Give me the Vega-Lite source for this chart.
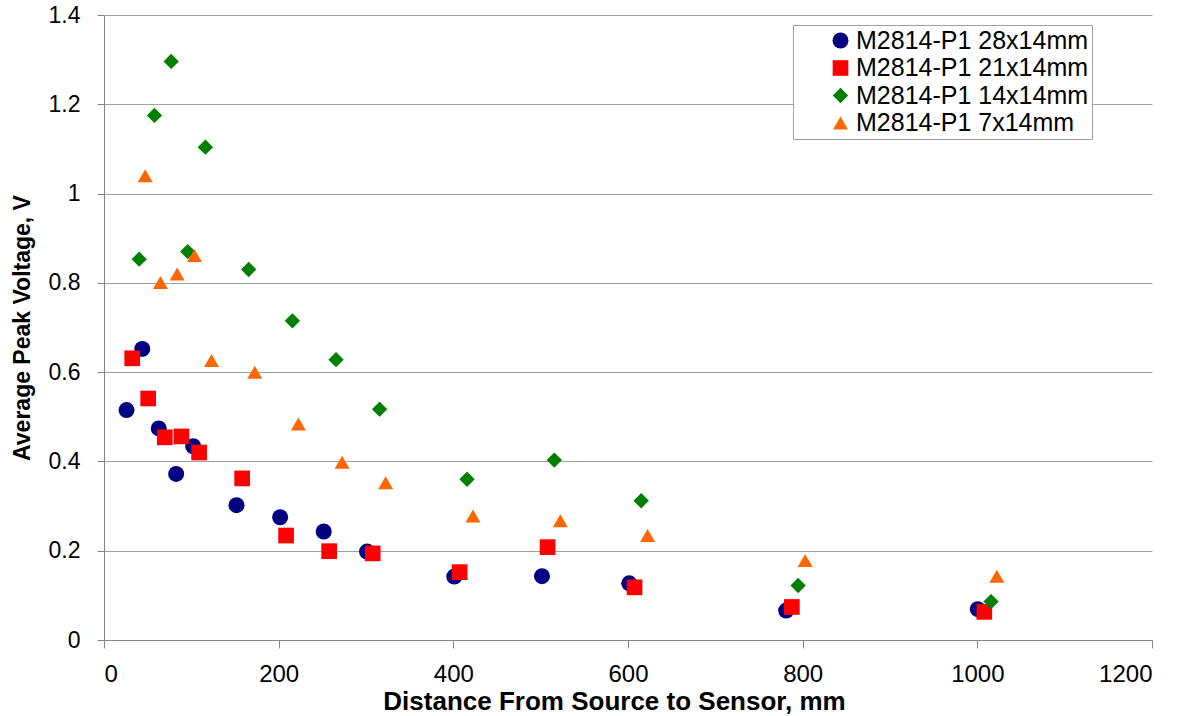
{
  "$schema": "https://vega.github.io/schema/vega-lite/v6.json",
  "autosize": "none",
  "width": 1048,
  "height": 625,
  "padding": {"left": 104, "top": 15, "right": 40, "bottom": 76},
  "background": "white",
  "data": {
    "values": [
      {"series": "M2814-P1 28x14mm", "d": 25.8, "v": 0.515},
      {"series": "M2814-P1 28x14mm", "d": 43.8, "v": 0.652},
      {"series": "M2814-P1 28x14mm", "d": 62.7, "v": 0.474},
      {"series": "M2814-P1 28x14mm", "d": 82.6, "v": 0.372},
      {"series": "M2814-P1 28x14mm", "d": 102.1, "v": 0.434},
      {"series": "M2814-P1 28x14mm", "d": 151.7, "v": 0.302},
      {"series": "M2814-P1 28x14mm", "d": 201.7, "v": 0.275},
      {"series": "M2814-P1 28x14mm", "d": 251.6, "v": 0.243},
      {"series": "M2814-P1 28x14mm", "d": 301.2, "v": 0.198},
      {"series": "M2814-P1 28x14mm", "d": 401.1, "v": 0.142},
      {"series": "M2814-P1 28x14mm", "d": 501.5, "v": 0.143},
      {"series": "M2814-P1 28x14mm", "d": 601.4, "v": 0.127},
      {"series": "M2814-P1 28x14mm", "d": 781.1, "v": 0.066},
      {"series": "M2814-P1 28x14mm", "d": 1000.5, "v": 0.069},
      {"series": "M2814-P1 21x14mm", "d": 32.3, "v": 0.631},
      {"series": "M2814-P1 21x14mm", "d": 50.6, "v": 0.541},
      {"series": "M2814-P1 21x14mm", "d": 69.6, "v": 0.454},
      {"series": "M2814-P1 21x14mm", "d": 88.7, "v": 0.456},
      {"series": "M2814-P1 21x14mm", "d": 108.9, "v": 0.42},
      {"series": "M2814-P1 21x14mm", "d": 158.2, "v": 0.362},
      {"series": "M2814-P1 21x14mm", "d": 208.5, "v": 0.234},
      {"series": "M2814-P1 21x14mm", "d": 257.8, "v": 0.199},
      {"series": "M2814-P1 21x14mm", "d": 307.7, "v": 0.194},
      {"series": "M2814-P1 21x14mm", "d": 407.2, "v": 0.152},
      {"series": "M2814-P1 21x14mm", "d": 507.9, "v": 0.208},
      {"series": "M2814-P1 21x14mm", "d": 607.5, "v": 0.118},
      {"series": "M2814-P1 21x14mm", "d": 787.6, "v": 0.074},
      {"series": "M2814-P1 21x14mm", "d": 1008.0, "v": 0.063},
      {"series": "M2814-P1 14x14mm", "d": 40.3, "v": 0.853},
      {"series": "M2814-P1 14x14mm", "d": 57.8, "v": 1.175},
      {"series": "M2814-P1 14x14mm", "d": 76.9, "v": 1.296},
      {"series": "M2814-P1 14x14mm", "d": 95.9, "v": 0.87},
      {"series": "M2814-P1 14x14mm", "d": 116.1, "v": 1.104},
      {"series": "M2814-P1 14x14mm", "d": 165.7, "v": 0.83},
      {"series": "M2814-P1 14x14mm", "d": 215.7, "v": 0.715},
      {"series": "M2814-P1 14x14mm", "d": 265.7, "v": 0.628},
      {"series": "M2814-P1 14x14mm", "d": 315.6, "v": 0.517},
      {"series": "M2814-P1 14x14mm", "d": 415.7, "v": 0.36},
      {"series": "M2814-P1 14x14mm", "d": 515.6, "v": 0.403},
      {"series": "M2814-P1 14x14mm", "d": 615.1, "v": 0.312},
      {"series": "M2814-P1 14x14mm", "d": 794.8, "v": 0.122},
      {"series": "M2814-P1 14x14mm", "d": 1015.7, "v": 0.086},
      {"series": "M2814-P1 7x14mm", "d": 47.2, "v": 1.04},
      {"series": "M2814-P1 7x14mm", "d": 64.6, "v": 0.801},
      {"series": "M2814-P1 7x14mm", "d": 83.8, "v": 0.82},
      {"series": "M2814-P1 7x14mm", "d": 103.6, "v": 0.861},
      {"series": "M2814-P1 7x14mm", "d": 123.1, "v": 0.626},
      {"series": "M2814-P1 7x14mm", "d": 172.6, "v": 0.6},
      {"series": "M2814-P1 7x14mm", "d": 222.6, "v": 0.484},
      {"series": "M2814-P1 7x14mm", "d": 272.6, "v": 0.398},
      {"series": "M2814-P1 7x14mm", "d": 322.5, "v": 0.352},
      {"series": "M2814-P1 7x14mm", "d": 422.5, "v": 0.278},
      {"series": "M2814-P1 7x14mm", "d": 522.5, "v": 0.267},
      {"series": "M2814-P1 7x14mm", "d": 622.4, "v": 0.234},
      {"series": "M2814-P1 7x14mm", "d": 802.8, "v": 0.178},
      {"series": "M2814-P1 7x14mm", "d": 1022.3, "v": 0.143}
    ]
  },
  "mark": {"type": "point", "filled": true, "opacity": 1, "strokeWidth": 0},
  "encoding": {
    "x": {
      "field": "d",
      "type": "quantitative",
      "scale": {"domain": [0, 1200], "nice": false, "zero": true},
      "axis": {
        "title": "Distance From Source to Sensor, mm",
        "values": [0, 200, 400, 600, 800, 1000, 1200],
        "format": "d",
        "grid": false,
        "tickSize": 8,
        "labelPadding": 14,
        "labelFontSize": 24,
        "titlePadding": 2,
        "titleX": 510,
        "titleAnchor": "middle",
        "titleAlign": "center"
      }
    },
    "y": {
      "field": "v",
      "type": "quantitative",
      "scale": {"domain": [0, 1.4], "nice": false},
      "axis": {
        "title": "Average Peak Voltage, V",
        "values": [0, 0.2, 0.4, 0.6, 0.8, 1, 1.2, 1.4],
        "format": "~g",
        "grid": true,
        "tickSize": 7,
        "labelPadding": 17,
        "titlePadding": 14
      }
    },
    "color": {
      "field": "series",
      "type": "nominal",
      "sort": null,
      "scale": {
        "domain": ["M2814-P1 28x14mm", "M2814-P1 21x14mm", "M2814-P1 14x14mm", "M2814-P1 7x14mm"],
        "range": ["#000080", "#FF0000", "#008000", "#FF6600"]
      },
      "legend": {
        "orient": "none",
        "legendX": 689,
        "legendY": 10,
        "title": null,
        "fillColor": "white",
        "strokeColor": "#A0A0A0",
        "padding": 3,
        "symbolOffset": 32,
        "labelOffset": 3,
        "rowPadding": 1.5,
        "labelLimit": 500
      }
    },
    "shape": {
      "field": "series",
      "type": "nominal",
      "sort": null,
      "scale": {
        "domain": ["M2814-P1 28x14mm", "M2814-P1 21x14mm", "M2814-P1 14x14mm", "M2814-P1 7x14mm"],
        "range": ["circle", "square", "diamond", "triangle-up"]
      }
    },
    "size": {
      "field": "series",
      "type": "nominal",
      "sort": null,
      "scale": {
        "domain": ["M2814-P1 28x14mm", "M2814-P1 21x14mm", "M2814-P1 14x14mm", "M2814-P1 7x14mm"],
        "range": [256, 225, 240, 300]
      },
      "legend": null
    }
  },
  "config": {
    "view": {"stroke": null},
    "font": "Liberation Sans",
    "axis": {
      "domainColor": "#868686",
      "tickColor": "#868686",
      "gridColor": "#A0A0A0",
      "gridWidth": 1,
      "labelFont": "Liberation Sans",
      "labelFontSize": 23,
      "labelColor": "#000000",
      "titleFont": "Liberation Sans",
      "titleFontWeight": "bold",
      "titleColor": "#000000"
    },
    "axisX": {"titleFontSize": 26},
    "axisY": {"titleFontSize": 23},
    "legend": {
      "labelFont": "Liberation Sans",
      "labelFontSize": 25,
      "labelColor": "#000000",
      "symbolSize": 240,
      "symbolStrokeWidth": 0
    }
  }
}
